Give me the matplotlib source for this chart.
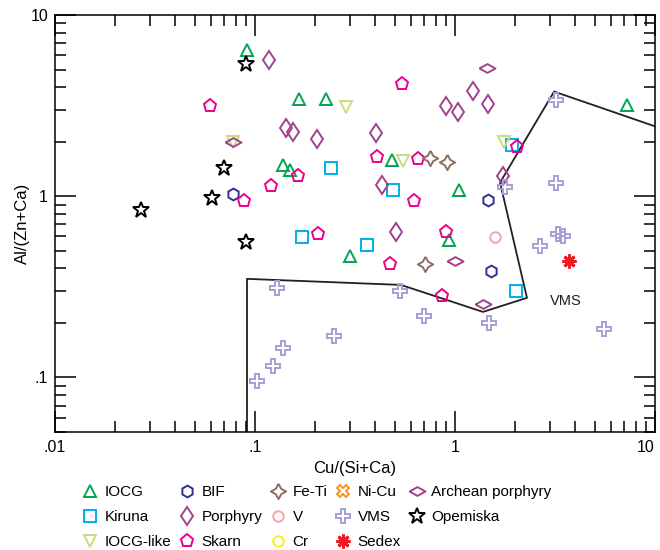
import numpy as np
import matplotlib.pyplot as plt
from matplotlib.ticker import FixedLocator, LogLocator, NullFormatter

plt.rcParams['font.family'] = ['Liberation Sans', 'DejaVu Sans']

# data, Cu/(Si+Ca) vs Al/(Zn+Ca)
iocg_x = [0.091, 0.166, 0.226, 7.24, 0.138, 0.150, 0.484, 1.05, 0.299, 0.933]
iocg_y = [6.42, 3.45, 3.45, 3.20, 1.48, 1.39, 1.58, 1.08, 0.468, 0.573]

kiruna_x = [0.240, 1.93, 0.490, 0.172, 0.363, 2.02]
kiruna_y = [1.44, 1.91, 1.08, 0.595, 0.538, 0.301]

iocglike_x = [0.285, 0.0776, 0.550, 1.76]
iocglike_y = [3.12, 1.98, 1.56, 1.98]

bif_x = [0.0776, 1.46, 1.51]
bif_y = [1.03, 0.95, 0.387]

porph_x = [0.117, 0.143, 0.155, 0.204, 0.403, 1.23, 0.902, 1.035, 1.46, 0.431, 1.74, 0.507]
porph_y = [5.66, 2.39, 2.25, 2.06, 2.22, 3.82, 3.16, 2.93, 3.24, 1.16, 1.30, 0.634]

skarn_x = [0.0596, 0.543, 0.164, 0.120, 0.0881, 0.407, 0.653, 2.04, 0.624, 0.207, 0.902, 0.473, 0.861]
skarn_y = [3.16, 4.18, 1.30, 1.135, 0.939, 1.64, 1.60, 1.88, 0.939, 0.618, 0.634, 0.423, 0.282]

feti_x = [0.750, 0.912, 0.708]
feti_y = [1.62, 1.54, 0.423]

nicu_x = []
nicu_y = []

v_x = [1.585]
v_y = [0.595]

cr_x = []
cr_y = []

vms_x = [3.20, 1.78, 3.20, 2.66, 3.27, 3.47, 5.56, 0.531, 0.700, 1.48, 0.129, 0.248, 0.138, 0.123, 0.102]
vms_y = [3.41, 1.12, 1.18, 0.531, 0.618, 0.603, 0.186, 0.301, 0.219, 0.200, 0.313, 0.170, 0.146, 0.115, 0.095]

sedex_x = [3.72]
sedex_y = [0.44]

arch_x = [1.445, 0.0776, 0.995, 1.38]
arch_y = [5.11, 1.98, 0.44, 0.255]

opem_x = [0.0902, 0.070, 0.061, 0.0269, 0.0902]
opem_y = [5.38, 1.43, 0.975, 0.838, 0.559]

# VMS field outline
field_x = [0.0912, 0.0912, 0.537, 1.38, 2.29, 1.68, 3.13, 10.0]
field_y = [0.05, 0.35, 0.324, 0.23, 0.275, 1.19, 3.78, 2.43]

# marker shapes (closed)
ang = np.linspace(np.pi / 2, np.pi / 2 + 2 * np.pi, 9)
rad = np.array([1, 0.5] * 4 + [1])
feti_marker = list(zip(rad * np.cos(ang), rad * np.sin(ang)))
wide_diamond = [(-1, 0), (0, 0.55), (1, 0), (0, -0.55), (-1, 0)]

groups = [
    (iocg_x, iocg_y, 'IOCG', '^', '#00a651', 9),
    (kiruna_x, kiruna_y, 'Kiruna', 's', '#00aeef', 8.5),
    (iocglike_x, iocglike_y, 'IOCG-like', 'v', '#cbdb7f', 9),
    (bif_x, bif_y, 'BIF', 'h', '#2e3192', 8.5),
    (porph_x, porph_y, 'Porphyry', 'd', '#a1428f', 9.5),
    (skarn_x, skarn_y, 'Skarn', 'p', '#ec008c', 9.5),
    (feti_x, feti_y, 'Fe-Ti', feti_marker, '#8c6e63', 11),
    (v_x, v_y, 'V', 'o', '#f4a5a5', 7.5),
    (cr_x, cr_y, 'Cr', 'o', '#fff200', 7.5),
    (nicu_x, nicu_y, 'Ni-Cu', 'X', '#f7941d', 9),
    (vms_x, vms_y, 'VMS', 'P', '#a59fd5', 10),
    (sedex_x, sedex_y, 'Sedex', (8, 2, 0), '#ed1c24', 10),
    (arch_x, arch_y, 'Archean porphyry', wide_diamond, '#a1428f', 11.5),
    (opem_x, opem_y, 'Opemiska', '*', '#000000', 12),
]

fig = plt.figure(figsize=(6.6, 5.5), dpi=100)
ax = fig.add_axes([55 / 660, 1 - 432 / 550, 600 / 660, 417 / 550])

ax.plot(field_x, field_y, color='#231f20', lw=1.3, zorder=1)

for gx, gy, name, mk, col, ms in groups:
    mew = 2.0 if name == 'Sedex' else 1.4
    ax.plot(gx, gy, ls='none', marker=mk, mfc='none', mec=col, ms=ms, mew=mew, label=name, zorder=3)

ax.text(3.6, 0.265, 'VMS', fontsize=10.5, ha='center', va='center', color='#231f20')

ax.set_xscale('log')
ax.set_yscale('log')
ax.set_xlim(0.01, 10)
ax.set_ylim(0.05, 10)

ax.xaxis.set_major_locator(FixedLocator([0.01, 0.1, 1, 10]))
ax.set_xticklabels(['.01', '.1', '1', '10'])
ax.yaxis.set_major_locator(FixedLocator([0.1, 1, 10]))
ax.set_yticklabels(['.1', '1', '10'])
ax.xaxis.set_minor_locator(LogLocator(base=10, subs=np.arange(2, 10)))
ax.yaxis.set_minor_locator(LogLocator(base=10, subs=np.arange(2, 10)))
ax.xaxis.set_minor_formatter(NullFormatter())
ax.yaxis.set_minor_formatter(NullFormatter())

ax.tick_params(which='both', direction='in', top=True, right=True, width=1.1, labelsize=11.5)
ax.tick_params(which='major', length=15)
ax.tick_params(axis='x', which='major', pad=6)
ax.tick_params(axis='y', which='major', pad=5)
ax.tick_params(which='minor', length=8)
ax.get_xticklabels()[-1].set_ha('right')
for sp in ax.spines.values():
    sp.set_linewidth(1.1)

ax.set_xlabel('Cu/(Si+Ca)', fontsize=12, labelpad=4)
ax.set_ylabel('Al/(Zn+Ca)', fontsize=12, labelpad=0)

fig.legend(loc='upper left', bbox_to_anchor=(81 / 660, 1 - 485 / 550), ncol=5, frameon=False,
           fontsize=11, handletextpad=0.33, columnspacing=0.45, labelspacing=0.72,
           handlelength=1.2, borderaxespad=0, borderpad=0)

fig.savefig('out.png', dpi=100)
